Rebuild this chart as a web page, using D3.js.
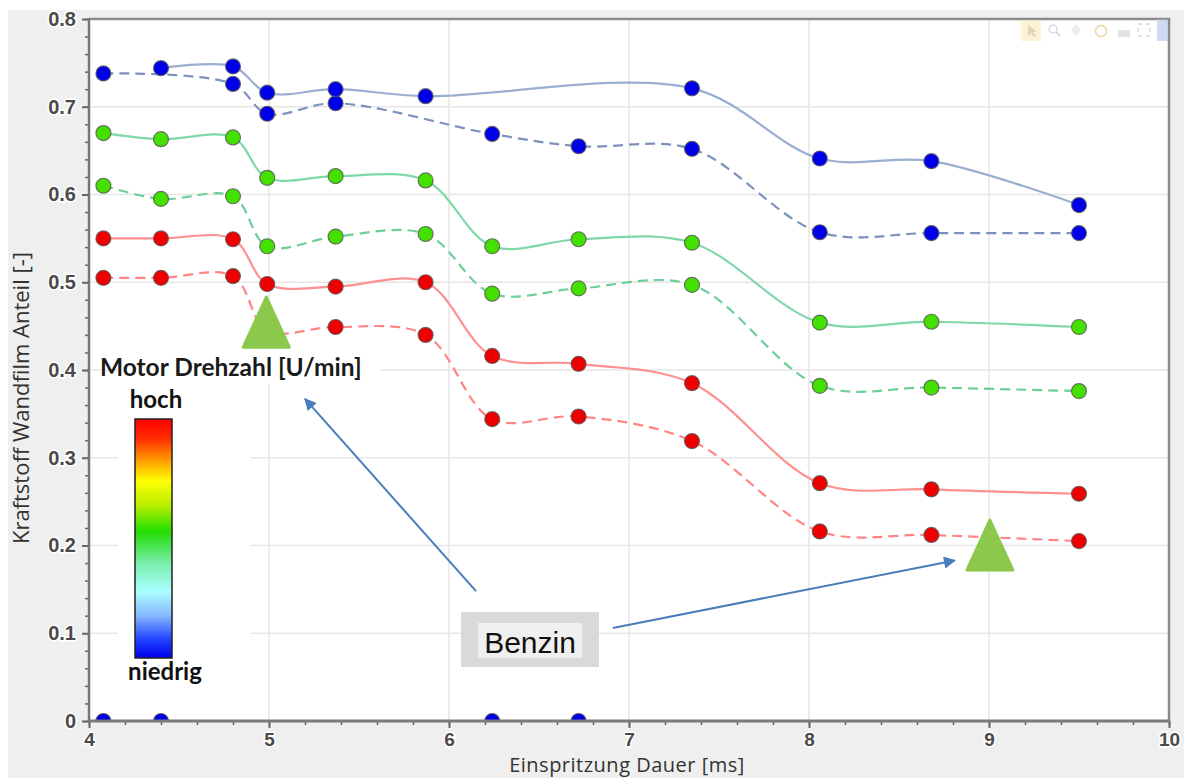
<!DOCTYPE html>
<html><head><meta charset="utf-8">
<script src="https://cdn.jsdelivr.net/npm/d3@7"></script>
<style>body{margin:0;background:#fff}svg{display:block}</style>
</head><body>
<script>
// ---- data ----
const injection = [4.08, 4.40, 4.80, 4.99, 5.37, 5.87, 6.24, 6.72, 7.35, 8.06, 8.68, 9.50];
const blueSolid   = [0, 0.744, 0.746, 0.716, 0.720, 0.712, 0, 0, 0.721, 0.641, 0.638, 0.588];
const blueDashed  = [0.738, 0, 0.726, 0.692, 0.704, null, 0.669, 0.655, 0.652, 0.557, 0.556, 0.556];
const greenSolid  = [0.670, 0.663, 0.665, 0.619, 0.621, 0.616, 0.541, 0.549, 0.545, 0.454, 0.455, 0.449];
const greenDashed = [0.610, 0.595, 0.598, 0.541, 0.552, 0.555, 0.487, 0.493, 0.497, 0.382, 0.380, 0.376];
const redSolid    = [0.550, 0.550, 0.549, 0.498, 0.495, 0.500, 0.416, 0.407, 0.385, 0.271, 0.264, 0.259];
const redDashed   = [0.505, 0.505, 0.507, 0.445, 0.449, 0.440, 0.344, 0.347, 0.319, 0.216, 0.212, 0.205];
const xTicks = [4, 5, 6, 7, 8, 9, 10];
const yTicks = [0, 0.1, 0.2, 0.3, 0.4, 0.5, 0.6, 0.7, 0.8];
const xTitle = "Einspritzung Dauer [ms]";
const yTitle = "Kraftstoff Wandfilm Anteil [-]";
const legendTitle = "Motor Drehzahl [U/min]";
const legendHigh = "hoch";
const legendLow = "niedrig";
const calloutText = "Benzin";

const series = [
  {vals: redDashed,   line: "#ff8585", fill: "#ee0000", dash: "10,6"},
  {vals: redSolid,    line: "#ff9090", fill: "#ee0000", dash: null},
  {vals: greenDashed, line: "#6ccf99", fill: "#44e000", dash: "10,6"},
  {vals: greenSolid,  line: "#80d8aa", fill: "#44e000", dash: null},
  {vals: blueDashed,  line: "#7d92bb", fill: "#0000e8", dash: "10,6"},
  {vals: blueSolid,   line: "#9aaed2", fill: "#0000e8", dash: null}
];

const W = 1184, H = 778;
const m = {l: 89, t: 19, r: 15, b: 57};
const x = d3.scaleLinear().domain([4, 10]).range([m.l, W - m.r]);
const y = d3.scaleLinear().domain([0, 0.8]).range([H - m.b, m.t]);

const svg = d3.select("body").append("svg").attr("width", W).attr("height", H);
// background
svg.append("rect").attr("x", 0).attr("y", 0).attr("width", W).attr("height", H).attr("fill", "#fff");
svg.append("rect").attr("x", 8).attr("y", 10).attr("width", W - 8).attr("height", H - 10).attr("fill", "#efefef");
svg.append("rect").attr("x", m.l).attr("y", m.t).attr("width", W - m.r - m.l).attr("height", H - m.b - m.t).attr("fill", "#fff");

const defs = svg.append("defs");
defs.append("clipPath").attr("id", "plotclip").append("rect")
  .attr("x", m.l).attr("y", m.t).attr("width", W - m.r - m.l).attr("height", H - m.b - m.t);

// grid
const grid = svg.append("g").attr("stroke", "#e6e6e6").attr("stroke-width", 1.5);
grid.selectAll("line.h").data(yTicks.slice(1, -1)).join("line")
  .attr("x1", m.l).attr("x2", W - m.r).attr("y1", d => y(d)).attr("y2", d => y(d));
grid.selectAll("line.v").data(xTicks.slice(1, -1)).join("line")
  .attr("y1", m.t).attr("y2", H - m.b).attr("x1", d => x(d)).attr("x2", d => x(d));

// white patch behind legend (pasted image)
svg.append("rect").attr("x", x(4.16)).attr("y", y(0.45)).attr("width", x(4.9) - x(4.16)).attr("height", y(0.015) - y(0.45)).attr("fill", "#fff");
svg.append("rect").attr("x", x(4.9)).attr("y", y(0.45)).attr("width", x(5.62) - x(4.9)).attr("height", y(0.385) - y(0.45)).attr("fill", "#fff");

// lines
const line = d3.line().x(d => x(d[0])).y(d => y(d[1])).curve(d3.curveCatmullRom.alpha(0.5));
const lines = svg.append("g").attr("clip-path", "url(#plotclip)");
series.forEach(s => {
  const pts = injection.map((v, i) => [v, s.vals[i]]).filter(d => d[1] != null && d[1] > 0);
  lines.append("path").attr("d", line(pts)).attr("fill", "none")
    .attr("stroke", s.line).attr("stroke-width", 2.2)
    .attr("stroke-dasharray", s.dash);
});
// markers
const marks = svg.append("g").attr("clip-path", "url(#plotclip)");
series.forEach(s => {
  const pts = injection.map((v, i) => [v, s.vals[i]]).filter(d => d[1] != null);
  marks.selectAll(null).data(pts).join("circle")
    .attr("cx", d => x(d[0])).attr("cy", d => y(d[1])).attr("r", 7.5)
    .attr("fill", s.fill).attr("stroke", "#555").attr("stroke-opacity", 0.8).attr("stroke-width", 1.2);
});

// plot frame (top/right)
svg.append("path").attr("d", `M${m.l},${m.t}H${W - m.r}V${H - m.b}`).attr("fill", "none").attr("stroke", "#8a8a8a").attr("stroke-width", 2.5);

// axes
const xAxisG = svg.append("g").attr("transform", `translate(0,${H - m.b})`);
xAxisG.call(d3.axisBottom(x).tickValues(d3.range(4, 10.001, 0.2)).tickSize(4).tickFormat(""))
  .call(g => g.select(".domain").remove())
  .call(g => g.selectAll("line").attr("stroke", "#666").attr("stroke-width", 1.5));
xAxisG.append("g").call(d3.axisBottom(x).tickValues(xTicks).tickSize(7).tickPadding(1).tickFormat(d3.format("d")))
  .call(g => g.select(".domain").remove())
  .call(g => g.selectAll("line").attr("stroke", "#666").attr("stroke-width", 2))
  .call(g => g.selectAll("text").attr("dy", "0.9em").attr("font-family", "Liberation Sans, Arial, sans-serif")
    .attr("font-weight", "bold").attr("font-size", 19).attr("fill", "#4a4a4a")
    .attr("stroke", "#fff").attr("stroke-width", 3).attr("paint-order", "stroke"));
xAxisG.append("line").attr("x1", m.l - 1).attr("x2", W - m.r + 1).attr("stroke", "#7a7a7a").attr("stroke-width", 3);

const yAxisG = svg.append("g").attr("transform", `translate(${m.l},0)`);
yAxisG.call(d3.axisLeft(y).tickValues(d3.range(0, 0.8001, 0.02)).tickSize(4).tickFormat(""))
  .call(g => g.select(".domain").remove())
  .call(g => g.selectAll("line").attr("stroke", "#666").attr("stroke-width", 1.5));
yAxisG.append("g").call(d3.axisLeft(y).tickValues(yTicks).tickSize(7).tickFormat(d => d === 0 ? "0" : d3.format(".1f")(d)))
  .call(g => g.select(".domain").remove())
  .call(g => g.selectAll("line").attr("stroke", "#666").attr("stroke-width", 2))
  .call(g => g.selectAll("text").attr("x", -13).attr("font-family", "Liberation Sans, Arial, sans-serif")
    .attr("font-weight", "bold").attr("font-size", 20).attr("fill", "#4a4a4a")
    .attr("stroke", "#fff").attr("stroke-width", 3).attr("paint-order", "stroke"));
yAxisG.append("line").attr("y1", m.t - 1).attr("y2", H - m.b + 1).attr("stroke", "#777").attr("stroke-width", 2.5);

// axis titles
svg.append("text").attr("x", 627).attr("y", 772).attr("text-anchor", "middle").attr("letter-spacing", 0.5)
  .attr("font-family", "Open Sans, sans-serif").attr("font-size", 20).attr("fill", "#333").text(xTitle);
svg.append("text").attr("transform", `translate(29,${y(0.368)}) rotate(-90)`).attr("text-anchor", "middle")
  .attr("font-family", "Open Sans, sans-serif").attr("font-size", 22).attr("fill", "#333").text(yTitle);

// toolbar icons (faint)
const tb = svg.append("g").attr("opacity", 0.55);
tb.append("rect").attr("x", 1021).attr("y", 20).attr("width", 20).attr("height", 21).attr("fill", "#fbe9b5");
tb.append("path").attr("d", "M1028,25 l0,11 l3,-3 l3,4 l2,-1 l-3,-4 l4,0z").attr("fill", "#c8b07a");
tb.append("circle").attr("cx", 1053).attr("cy", 29).attr("r", 4).attr("fill", "none").attr("stroke", "#bbb").attr("stroke-width", 1.5);
tb.append("line").attr("x1", 1056).attr("y1", 32).attr("x2", 1060).attr("y2", 36).attr("stroke", "#bbb").attr("stroke-width", 2);
tb.append("path").attr("d", "M1076,24 l5,6 l-5,6 l-5,-6z").attr("fill", "#ddd");
tb.append("circle").attr("cx", 1101).attr("cy", 31).attr("r", 5.5).attr("fill", "none").attr("stroke", "#e0c080").attr("stroke-width", 2);
tb.append("rect").attr("x", 1118).attr("y", 30).attr("width", 12).attr("height", 7).attr("fill", "#ccc");
tb.append("rect").attr("x", 1138).attr("y", 24).attr("width", 12).attr("height", 12).attr("fill", "none").attr("stroke", "#ccc").attr("stroke-width", 2).attr("stroke-dasharray", "4,4");
tb.append("rect").attr("x", 1157).attr("y", 19).attr("width", 11).attr("height", 22).attr("fill", "#aabfe8");

// legend (colour bar)
const grad = defs.append("linearGradient").attr("id", "cbar").attr("x1", 0).attr("y1", 0).attr("x2", 0).attr("y2", 1);
[[0, "#ff0000"], [0.08, "#ff2a00"], [0.17, "#ff9900"], [0.26, "#ffff00"], [0.36, "#bbee00"], [0.47, "#22dd00"],
 [0.6, "#77eeaa"], [0.72, "#aaffff"], [0.82, "#88bbff"], [0.92, "#2244ff"], [1, "#0000ee"]]
  .forEach(s => grad.append("stop").attr("offset", s[0]).attr("stop-color", s[1]));
svg.append("rect").attr("x", 135).attr("y", 419).attr("width", 37).attr("height", 239)
  .attr("fill", "url(#cbar)").attr("stroke", "#222").attr("stroke-width", 1.5);
svg.append("text").attr("x", 100).attr("y", 376).attr("font-family", "Lato, sans-serif").attr("font-weight", "bold")
  .attr("font-size", 24.5).attr("fill", "#1a1a1a").text(legendTitle);
svg.append("text").attr("x", 156).attr("y", 408).attr("text-anchor", "middle").attr("font-family", "Lato, sans-serif").attr("font-weight", "bold")
  .attr("font-size", 24).attr("fill", "#111").text(legendHigh);
svg.append("text").attr("x", 165).attr("y", 680).attr("text-anchor", "middle").attr("font-family", "Lato, sans-serif").attr("font-weight", "bold")
  .attr("font-size", 24).attr("fill", "#111").text(legendLow);

// triangles
const tri = (cx, topY, botY, half) => `M${cx},${topY}L${cx + half},${botY}L${cx - half},${botY}Z`;
svg.append("path").attr("d", tri(x(4.985), y(0.483), y(0.426), 23)).attr("fill", "#8cc84b")
  .attr("stroke", "#8cc84b").attr("stroke-width", 3).attr("stroke-linejoin", "round");
svg.append("path").attr("d", tri(x(9.005), y(0.229), y(0.172), 23)).attr("fill", "#8cc84b")
  .attr("stroke", "#8cc84b").attr("stroke-width", 3).attr("stroke-linejoin", "round");

// callout
const arrowCol = "#4a7ebb";
defs.append("marker").attr("id", "arr").attr("viewBox", "0 0 10 10").attr("refX", 9).attr("refY", 5)
  .attr("markerWidth", 7).attr("markerHeight", 6).attr("markerUnits", "strokeWidth").attr("orient", "auto")
  .append("path").attr("d", "M0,0L10,5L0,10z").attr("fill", arrowCol);
svg.append("line").attr("x1", x(6.15)).attr("y1", y(0.148)).attr("x2", x(5.2)).attr("y2", y(0.367))
  .attr("stroke", arrowCol).attr("stroke-width", 2).attr("marker-end", "url(#arr)");
svg.append("line").attr("x1", x(6.91)).attr("y1", y(0.106)).attr("x2", x(8.81)).attr("y2", y(0.183))
  .attr("stroke", arrowCol).attr("stroke-width", 2).attr("marker-end", "url(#arr)");
svg.append("rect").attr("x", 461).attr("y", 612).attr("width", 138).attr("height", 55).attr("fill", "#d9d9d9");
svg.append("rect").attr("x", 478).attr("y", 623).attr("width", 104).attr("height", 35).attr("fill", "#efefef");
svg.append("text").attr("x", 530).attr("y", 653).attr("text-anchor", "middle")
  .attr("font-family", "Liberation Sans, Arial, sans-serif").attr("font-size", 30).attr("fill", "#111").text(calloutText);
</script>
</body></html>
